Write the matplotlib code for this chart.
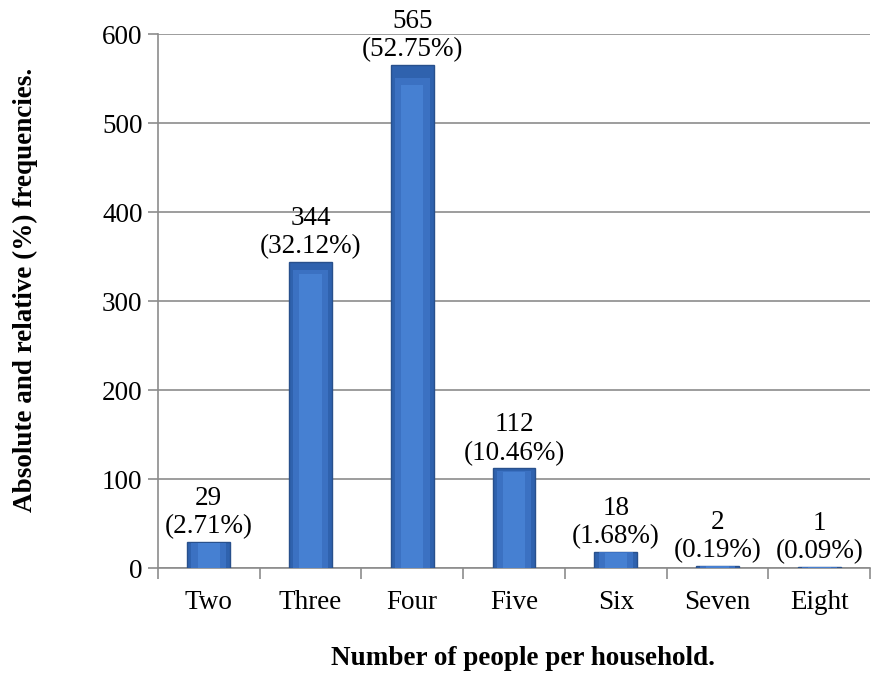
import numpy as np
import matplotlib.pyplot as plt

# household size distribution
categories = ['Two', 'Three', 'Four', 'Five', 'Six', 'Seven', 'Eight']
counts = [29, 344, 565, 112, 18, 2, 1]
percents = ['2.71%', '32.12%', '52.75%', '10.46%', '1.68%', '0.19%', '0.09%']

plt.rcParams['font.family'] = ['Liberation Serif', 'DejaVu Serif']
fs = 19.5

fig = plt.figure(figsize=(8.72, 6.75), dpi=100)
ax = fig.add_axes([0.181, 0.1585, 0.817, 0.791])

x = np.arange(len(categories))
vals = np.array(counts)
ax.bar(x, vals, width=0.42, color='#2f62ae', edgecolor='#28508c',
       linewidth=1.0, zorder=3)
# lighter inner faces to hint at the bevel
ax.bar(x, vals * 0.975, width=0.34, color='#3b71c2', linewidth=0, zorder=4)
ax.bar(x, vals * 0.96, width=0.22, color='#4680d2', linewidth=0, zorder=5)

for xi, c, p in zip(x, counts, percents):
    ax.text(xi, c + 3, f'{c}\n({p})', ha='center', va='bottom', fontsize=fs,
            linespacing=1.17, clip_on=False)

ax.set_xlim(-0.5, len(categories) - 0.5)
ax.set_ylim(0, 600)
ax.set_yticks(range(0, 601, 100))
ax.yaxis.grid(True, color='#8c8c8c', linewidth=1.2, zorder=0)
ax.set_axisbelow(True)

ax.set_xticks(x)
ax.set_xticklabels(categories, fontsize=fs)
ax.set_xticks(np.arange(-0.5, len(categories)), minor=True)
ax.tick_params(axis='x', which='major', length=0, pad=16)
ax.tick_params(axis='x', which='minor', length=8, color='#8c8c8c', width=1.2)
ax.tick_params(axis='y', length=7, color='#8c8c8c', width=1.2, labelsize=fs, pad=4)

for s in ['top', 'right']:
    ax.spines[s].set_visible(False)
for s in ['left', 'bottom']:
    ax.spines[s].set_color('#8c8c8c')
    ax.spines[s].set_linewidth(1.2)

ax.set_ylabel('Absolute and relative (%) frequencies.', fontsize=fs,
              fontweight='bold', labelpad=46)
ax.yaxis.label.set_y(0.52)
ax.set_xlabel('Number of people per household.', fontsize=fs,
              fontweight='bold', labelpad=24)
ax.xaxis.set_label_coords(0.513, -0.147)

fig.savefig('out.png', dpi=100)
